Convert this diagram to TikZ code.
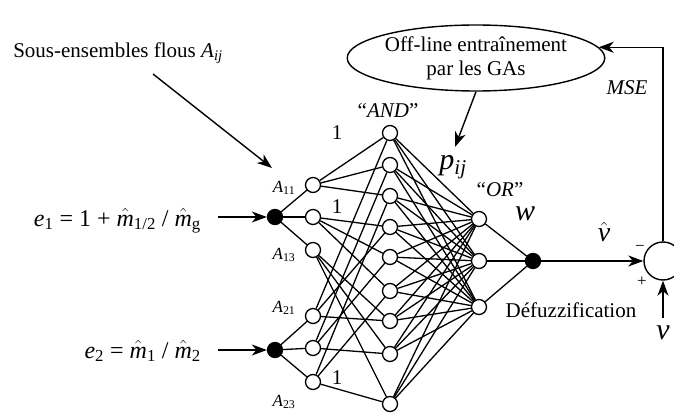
\documentclass[tikz,border=0pt]{standalone}
\usepackage{fontspec}
\setmainfont{Liberation Serif}
\usetikzlibrary{arrows.meta,shapes.geometric}
\newcommand\hatit[1]{$\hat{\hbox{\itshape #1}}$}
\newcommand\sbi[1]{\textsubscript{\itshape #1}}
\newcommand\sbn[1]{\textsubscript{#1}}
\begin{document}
\begin{tikzpicture}[x=1pt,y=-1pt,
  every node/.style={inner sep=0pt},
  neu/.style={circle,draw,fill=white,minimum size=15pt,line width=1.3pt},
  blob/.style={circle,fill=black,draw,line width=1.3pt,minimum size=15pt},
  link/.style={line width=1.3pt},
  arr/.style={line width=1.4pt,-{Stealth[length=15pt,width=11pt,inset=4.5pt]}},
  txt/.style={font=\fontsize{21}{25}\selectfont},
  big/.style={font=\fontsize{30}{34}\selectfont},
  mth/.style={font=\fontsize{24}{28}\selectfont},
  sml/.style={font=\fontsize{17}{20}\selectfont}]
\useasboundingbox (0,0) rectangle (674,414);

% inputs
\node[blob] (in1) at (275,217) {};
\node[blob] (in2) at (275,350) {};
% fuzzy sets
\node[neu] (a11) at (313,185) {};
\node[neu] (a12) at (313,217) {};
\node[neu] (a13) at (313,250) {};
\node[neu] (a21) at (313,316) {};
\node[neu] (a22) at (313,348) {};
\node[neu] (a23) at (313,382) {};
% rules
\foreach \i/\y in {1/133,2/165,3/196,4/227,5/257,6/291,7/321,8/354,9/404}
  \node[neu] (r\i) at (390,\y) {};
% OR
\node[neu] (o1) at (479,219) {};
\node[neu] (o2) at (479,261) {};
\node[neu] (o3) at (479,307) {};
% defuzz
\node[blob] (d) at (533,261) {};
% sum
\node[circle,draw,line width=1.4pt,minimum size=38pt] (s) at (663,261) {};

% links
\foreach \a in {11,12,13} \draw[link] (in1) -- (a\a);
\foreach \a in {21,22,23} \draw[link] (in2) -- (a\a);
\foreach \r in {1,2,3} \draw[link] (a11) -- (r\r);
\foreach \r in {4,5,6} \draw[link] (a12) -- (r\r);
\foreach \r in {7,8,9} \draw[link] (a13) -- (r\r);
\foreach \r in {1,4,7} \draw[link] (a21) -- (r\r);
\foreach \r in {2,5,8} \draw[link] (a22) -- (r\r);
\foreach \r in {3,6,9} \draw[link] (a23) -- (r\r);
\foreach \r in {1,...,9} \foreach \o in {1,2,3} \draw[link] (r\r) -- (o\o);
\foreach \o in {1,2,3} \draw[link] (o\o) -- (d);
\draw[arr] (d) -- (s);

% ellipse
\node[ellipse,draw,line width=1.4pt,minimum width=212pt,minimum height=66pt,align=center,txt] (ell) at (476,58) {Off-line entraînement\\[-1pt]par les GAs};
\draw[arr] (s) |- (ell.5);
\coordinate (ptip) at (455,147);
\draw[arr] (ell.south) -- (ptip);

% input labels
\node[mth,anchor=east] (e1) at (201,221) {\textit{e}\sbn{1} = 1 + \hatit{m}\sbn{1/2} / \hatit{m}\sbn{g}};
\node[mth,anchor=east] (e2) at (201,351) {\textit{e}\sbn{2} = \hatit{m}\sbn{1} / \hatit{m}\sbn{2}};
\coordinate (e1s) at (218,217);
\coordinate (e2s) at (218,350);
\draw[arr] (e1s) -- (in1);
\draw[arr] (e2s) -- (in2);

% sous-ensembles
\node[txt] (sous) at (118,53) {Sous-ensembles flous \textit{A}\sbi{ij}};
\coordinate (ss) at (153,74);
\coordinate (st) at (272,168);
\draw[arr] (ss) -- (st);

% A labels
\node[sml] (l11) at (284,188) {\textit{A}\sbn{11}};
\node[sml] (l13) at (284,255) {\textit{A}\sbn{13}};
\node[sml] (l21) at (284,308) {\textit{A}\sbn{21}};
\node[sml] (l23) at (284,402) {\textit{A}\sbn{23}};

% weights
\node[txt] (w1) at (337,133) {1};
\node[txt] (w2) at (337,207) {1};
\node[txt] (w3) at (337,378) {1};

\node[txt] (andl) at (388,111) {“\textit{AND}”};
\node[txt] (orl) at (500,190) {“\textit{OR}”};
\node[big] (pl) at (453,167) {\textit{p}\sbi{ij}};
\node[big] (wl) at (525,214) {\textit{w}};
\node[font=\fontsize{28}{32}\selectfont] (vh) at (604,232) {\hatit{v}};
\node[big] (vl) at (663,333) {\textit{v}};
\node[sml] (mi) at (640,248) {−};
\node[sml] (pl2) at (642,282) {+};
\coordinate (vs) at (663,318);
\draw[arr] (vs) -- (s);
\node[txt] (def) at (571,310) {Défuzzification};
\node[txt] (mse) at (627,88) {\textit{MSE}};
\end{tikzpicture}
\end{document}
